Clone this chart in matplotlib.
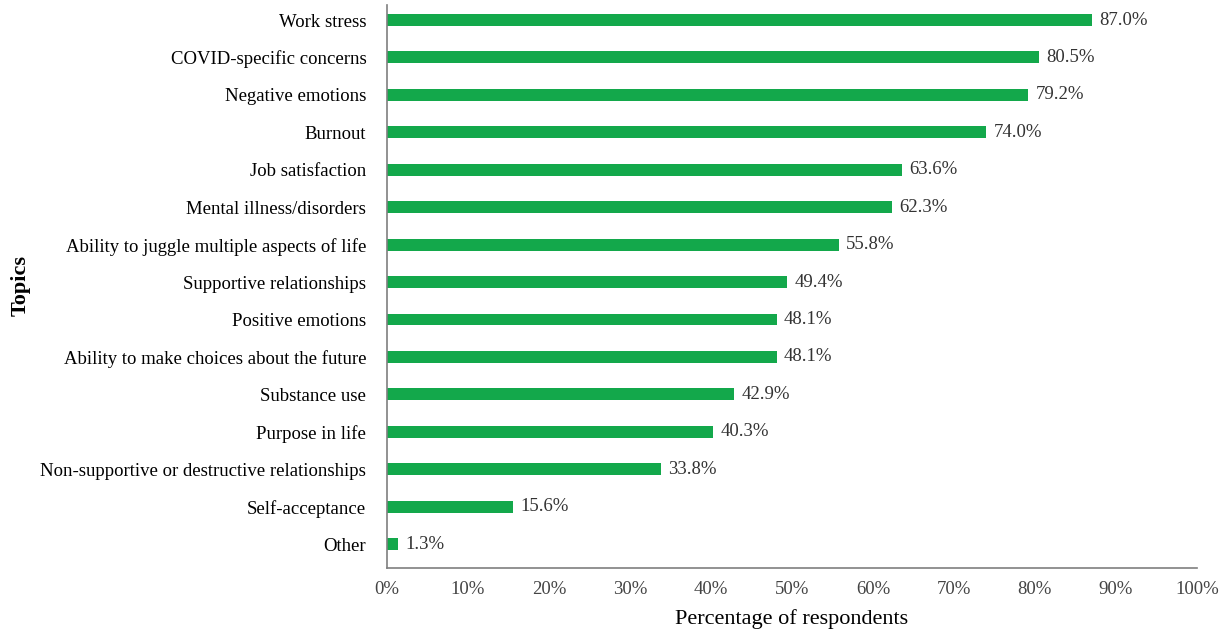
import numpy as np
import matplotlib.pyplot as plt
from matplotlib.ticker import PercentFormatter

topics = ['Work stress', 'COVID-specific concerns', 'Negative emotions', 'Burnout',
          'Job satisfaction', 'Mental illness/disorders',
          'Ability to juggle multiple aspects of life', 'Supportive relationships',
          'Positive emotions', 'Ability to make choices about the future',
          'Substance use', 'Purpose in life',
          'Non-supportive or destructive relationships', 'Self-acceptance', 'Other']
percent = [87.0, 80.5, 79.2, 74.0, 63.6, 62.3, 55.8, 49.4, 48.1, 48.1,
           42.9, 40.3, 33.8, 15.6, 1.3]
xticks = [0, 10, 20, 30, 40, 50, 60, 70, 80, 90, 100]

plt.rcParams['font.family'] = ['Liberation Serif', 'DejaVu Serif']

fig = plt.figure(figsize=(12.25, 6.34), dpi=100)
ax = fig.add_axes([0.316, 0.104, 0.661, 0.888])

y = np.arange(len(topics))
ax.barh(y, percent, height=0.32, color='#13a84b')
for yi, v in zip(y, percent):
    ax.text(v + 0.9, yi, f'{v:.1f}%', va='center', ha='left', fontsize=13.5, color='#333333')

ax.set_ylim(14.64, -0.4)
ax.set_xlim(0, 100)
ax.set_yticks(y, labels=topics, fontsize=13.5)
ax.set_xticks(xticks)
ax.xaxis.set_major_formatter(PercentFormatter(decimals=0))
ax.tick_params(axis='x', length=0, labelsize=13.5, colors='#444444', pad=9)
ax.tick_params(axis='y', length=0, labelsize=13.5, colors='#333333',
               labelcolor='black', pad=15)

for s in ['top', 'right']:
    ax.spines[s].set_visible(False)
for s in ['left', 'bottom']:
    ax.spines[s].set_color('#7f7f7f')
    ax.spines[s].set_linewidth(1.2)

ax.set_xlabel('Percentage of respondents', fontsize=16, labelpad=8)
fig.text(0.017, 0.55, 'Topics', rotation=90, fontsize=16, fontweight='bold',
         va='center', ha='center')

fig.savefig('out.png', dpi=100)
